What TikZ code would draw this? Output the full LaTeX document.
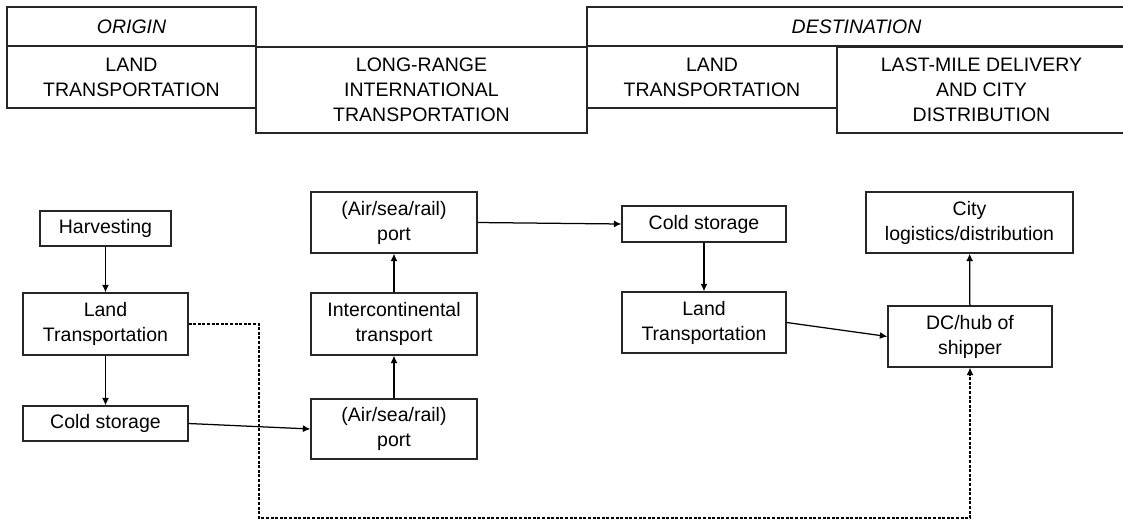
\documentclass[tikz,border=0pt]{standalone}
\usepackage{fontspec}
\setmainfont{Liberation Sans}
\usetikzlibrary{arrows.meta}

\begin{document}
\begin{tikzpicture}[
		x=1pt, y=-1pt,
		line width=1.25pt,
		every node/.style={rectangle, draw=black!85, inner sep=0pt, align=center, font=\fontsize{19.5}{25}\selectfont},
		arr/.style={-{Latex[length=7.5pt, width=7pt]}},
		dotline/.style={dash pattern=on 3pt off 1.6pt}
	]
  \useasboundingbox (0, 0) rectangle (1123, 520);
  % header
  \node (origin) [minimum width=249pt, minimum height=39pt, font=\fontsize{19.5}{25}\selectfont\itshape] at (131.5, 26.5) {ORIGIN};
  \node (dest) [minimum width=539pt, minimum height=39pt, font=\fontsize{19.5}{25}\selectfont\itshape] at (856.5, 26.5) {DESTINATION};
  \node (oland) [minimum width=249pt, minimum height=62pt] at (131.5, 77) {LAND\\TRANSPORTATION};
  \node (longrange) [minimum width=331pt, minimum height=86pt] at (421.5, 90) {LONG-RANGE\\INTERNATIONAL\\TRANSPORTATION};
  \node (dland) [minimum width=250pt, minimum height=62pt] at (712, 77) {LAND\\TRANSPORTATION};
  \node (lastmile) [minimum width=289pt, minimum height=86pt] at (981.5, 90) {LAST-MILE DELIVERY\\AND CITY\\DISTRIBUTION};
  % chain
  \node (harvest) [minimum width=131pt, minimum height=35pt] at (105.5, 228.5) {Harvesting};
  \node (ltrans1) [minimum width=165pt, minimum height=62pt] at (105.5, 324) {Land\\Transportation};
  \node (ocold) [minimum width=165pt, minimum height=35pt] at (105.5, 423.5) {Cold storage};
  \node (portin) [minimum width=166pt, minimum height=60pt] at (394, 429) {(Air/sea/rail)\\port};
  \node (intercont) [minimum width=166pt, minimum height=62pt] at (394, 324) {Intercontinental\\transport};
  \node (portout) [minimum width=166pt, minimum height=61pt] at (394, 222.5) {(Air/sea/rail)\\port};
  \node (dcold) [minimum width=164pt, minimum height=36pt] at (704, 224) {Cold storage};
  \node (ltrans2) [minimum width=164pt, minimum height=61pt] at (704, 322.5) {Land\\Transportation};
  \node (hub) [minimum width=164pt, minimum height=61pt] at (970, 336.5) {DC/hub of\\shipper};
  \node (city) [minimum width=207pt, minimum height=61pt] at (969.5, 222.5) {City\\logistics/distribution};
  \coordinate (bypass) at (259, 518);
  \draw [arr] (harvest) -- (ltrans1);
  \draw [arr] (ltrans1) -- (ocold);
  \draw [arr] (ocold.east) -- (portin.west);
  \draw [arr] (portin) -- (intercont);
  \draw [arr] (intercont) -- (portout);
  \draw [arr] (portout.east) -- (dcold.west);
  \draw [arr] (dcold) -- (ltrans2);
  \draw [arr] (ltrans2.east) -- (hub.west);
  \draw [arr] (hub) -- (city);
  \draw [arr, dotline] (ltrans1.east) -| (bypass) -| (hub.south);
\end{tikzpicture}
\end{document}
